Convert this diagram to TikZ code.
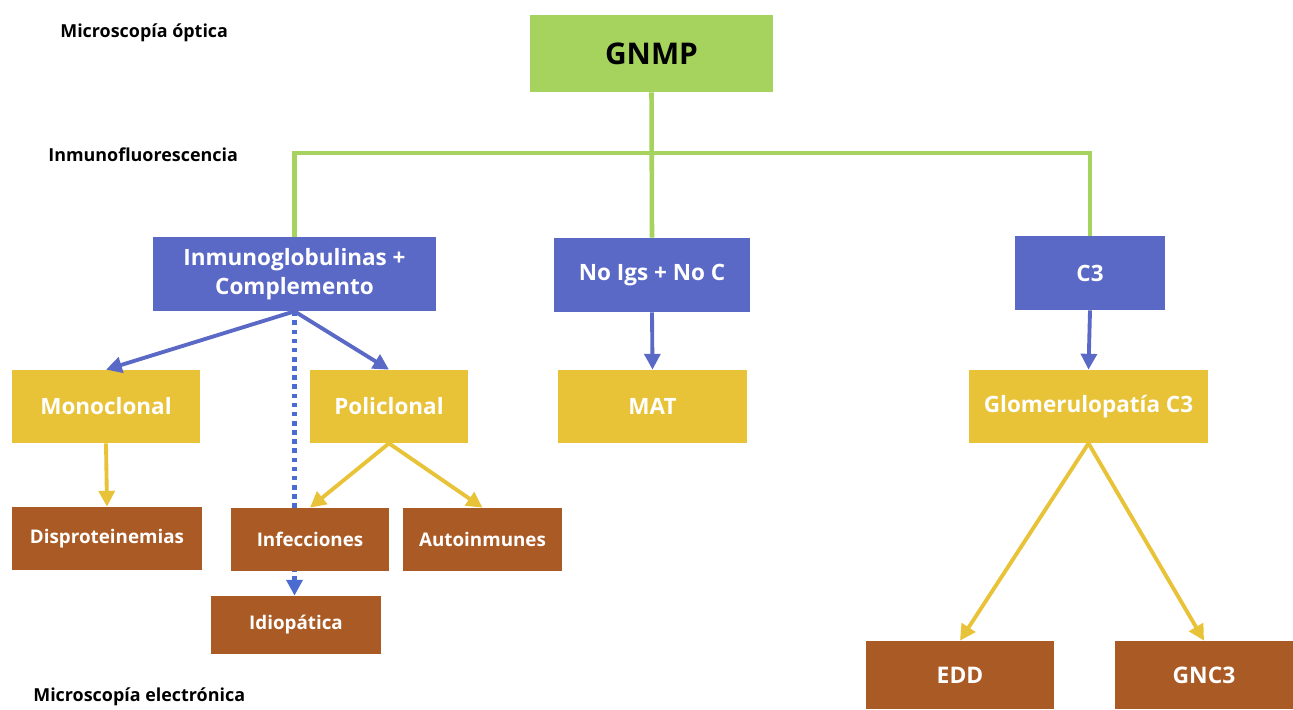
\documentclass[tikz,border=0pt]{standalone}
\usepackage{fontspec}
\setmainfont{Open Sans}
\usetikzlibrary{positioning,arrows.meta,backgrounds}
\usepackage{xcolor}
\definecolor{verde}{HTML}{A6D35E}
\definecolor{azul}{HTML}{5B69C6}
\definecolor{punto}{HTML}{4A6CD0}
\definecolor{amarillo}{HTML}{E8C237}
\definecolor{marron}{HTML}{AA5A24}

\tikzset{
  caja/.style={rectangle, inner sep=0pt, align=center, font=\bfseries\fontsize{12.8}{16.5}\selectfont, text=white},
  verdebox/.style={caja, fill=verde, text=black, font=\bfseries\fontsize{17}{19}\selectfont},
  azulbox/.style={caja, fill=azul},
  amabox/.style={caja, fill=amarillo},
  marbox/.style={caja, fill=marron, font=\bfseries\fontsize{10.7}{13}\selectfont},
  marboxg/.style={caja, fill=marron, font=\bfseries\fontsize{13}{15}\selectfont},
  rama/.style={verde, line width=2.6pt},
  flechaA/.style={azul, line width=2.2pt, -{Triangle[length=9pt,width=9pt]}},
  flechaY/.style={amarillo, line width=2.2pt, -{Triangle[length=9pt,width=9pt]}},
  nivel/.style={anchor=west, inner sep=0pt, font=\bfseries\fontsize{10.2}{12}\selectfont}
}

\begin{document}
\begin{tikzpicture}[x=0.02cm, y=-0.02cm]
        \useasboundingbox (0,0) rectangle (1293,709);

        \node[nivel] (optica) at (60, 33) {Microscopía óptica};
        \node[nivel] (inmuno) at (48, 155) {Inmunofluorescencia};
        \node[nivel] (electro) at (33, 697) {Microscopía electrónica};

        \node[verdebox, minimum width=4.86cm, minimum height=1.54cm] (gnmp) at (651.5, 53.5) {GNMP};

        \node[azulbox, minimum width=5.66cm, minimum height=1.48cm] (igc) at (294.5, 274) {Inmunoglobulinas +\\Complemento};
        \node[azulbox, minimum width=3.92cm, minimum height=1.48cm] (noig) at (652, 275) {No Igs + No C};
        \node[azulbox, minimum width=3cm, minimum height=1.48cm] (cthree) at (1090, 273) {C3};

        \node[amabox, minimum width=3.76cm, minimum height=1.46cm] (mono) at (106, 406.5) {Monoclonal};
        \node[amabox, minimum width=3.16cm, minimum height=1.46cm] (poli) at (389, 406.5) {Policlonal};
        \node[amabox, minimum width=3.78cm, minimum height=1.46cm] (mat) at (652.5, 406.5) {MAT};
        \node[amabox, minimum width=4.78cm, minimum height=1.46cm] (glom) at (1088.5, 406.5) {Glomerulopatía C3};

        \node[marbox, minimum width=3.8cm, minimum height=1.26cm] (disp) at (107, 538.5) {Disproteinemias};
        \node[marbox, minimum width=3.16cm, minimum height=1.26cm] (infe) at (310, 539.5) {Infecciones};
        \node[marbox, minimum width=3.18cm, minimum height=1.26cm] (autoin) at (482.5, 539.5) {Autoinmunes};
        \node[marbox, minimum width=3.4cm, minimum height=1.16cm] (idio) at (296, 625) {Idiopática};
        \node[marboxg, minimum width=3.76cm, minimum height=1.36cm] (edd) at (960, 675) {EDD};
        \node[marboxg, minimum width=3.56cm, minimum height=1.36cm] (gnc) at (1204, 675) {GNC3};

        % arbol verde
        \coordinate (cruce) at (652, 153);
        \draw[rama] (gnmp.south) -- (noig.north);
        \draw[rama] (igc.north) |- (cruce) -| (cthree.north);

        % flechas
        \draw[flechaA] (igc.south) -- (mono.north);
        \draw[flechaA] (igc.south) -- (poli.north);
        \begin{scope}[on background layer]
          \draw[flechaA, punto, line width=2.6pt, dash pattern=on 2.6pt off 2.6pt] (igc.south) -- (igc.south |- idio.north);
        \end{scope}
        \draw[flechaA] (noig.south) -- (mat.north);
        \draw[flechaA] (cthree.south) -- (glom.north);

        \draw[flechaY] (mono.south) -- (disp.north);
        \draw[flechaY] (poli.south) -- (infe.north);
        \draw[flechaY] (poli.south) -- (autoin.north);
        \draw[flechaY] (glom.south) -- (edd.north);
        \draw[flechaY] (glom.south) -- (gnc.north);
    \end{tikzpicture}
\end{document}
